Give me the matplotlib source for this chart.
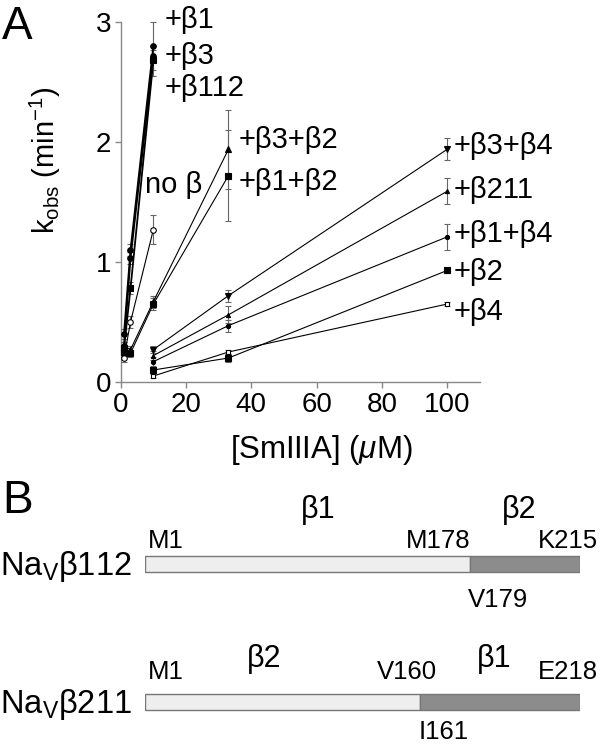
import numpy as np
import matplotlib
matplotlib.use('Agg')
import matplotlib.pyplot as plt

plt.rcParams['font.family'] = ['Liberation Sans', 'DejaVu Sans']
plt.rcParams['mathtext.fontset'] = 'custom'
plt.rcParams['mathtext.rm'] = 'Liberation Sans'
plt.rcParams['mathtext.it'] = 'Liberation Sans:italic'

# ---- panel A data ----
conc_steep = [1, 3, 10]
conc_mid = [1, 3, 10, 33]
conc_low = [10, 33, 100]

series_names = ['+β1', '+β3', '+β112', 'no β', '+β3+β2', '+β1+β2',
                '+β3+β4', '+β211', '+β1+β4', '+β2', '+β4']
series_x = [conc_steep, conc_steep, conc_steep, conc_steep, conc_mid, conc_mid,
            conc_low, conc_low, conc_low, conc_low, conc_low]
series_y = [
    [0.40, 1.10, 2.80],
    [0.30, 1.03, 2.72],
    [0.28, 0.78, 2.68],
    [0.20, 0.50, 1.27],
    [0.30, 0.27, 0.67, 1.94],
    [0.25, 0.24, 0.65, 1.72],
    [0.27, 0.72, 1.94],
    [0.22, 0.56, 1.59],
    [0.17, 0.47, 1.21],
    [0.10, 0.20, 0.93],
    [0.05, 0.25, 0.65],
]
series_err = [
    [0.04, 0.05, 0.20],
    [0.03, 0.05, 0.05],
    [0.03, 0.05, 0.13],
    [0.03, 0.05, 0.12],
    [0.03, 0.03, 0.05, 0.33],
    [0.03, 0.03, 0.05, 0.38],
    [0.03, 0.05, 0.09],
    [0.04, 0.07, 0.11],
    [0.04, 0.05, 0.11],
    [0.02, 0.03, 0.02],
    [0.02, 0.02, 0.02],
]
markers = ['o', 'o', 's', 'o', '^', 's', 'v', '^', 'o', 's', 's']
filled = [True, True, True, False, True, True, True, True, True, True, False]
msizes = [4, 4, 4, 4, 4, 5, 4, 3, 3, 5, 3.5]
lwidths = [1.3, 1.3, 1.3, 0.8, 0.8, 0.8, 0.8, 0.8, 0.8, 0.8, 0.8]

# label anchor points (data units)
label_x = [13.6, 13.6, 13.6, 7.5, 36, 36, 102, 102, 102, 102, 102]
label_y = [3.02, 2.72, 2.45, 1.64, 2.02, 1.67, 1.97, 1.60, 1.23, 0.92, 0.58]

# ---- panel B data ----
constructs = [r'Na$_\mathregular{V}$β112', r'Na$_\mathregular{V}$β211']
junction_frac = [0.748, 0.633]
domain_left = ['β1', 'β2']
domain_right = ['β2', 'β1']
res_start = ['M1', 'M1']
res_junc_left = ['M178', 'V160']
res_junc_right = ['V179', 'I161']
res_end = ['K215', 'E218']

W, H = 600, 750
fig = plt.figure(figsize=(6, 7.5), dpi=100)

# ---------------- panel A ----------------
ax = fig.add_axes([120.7 / W, (H - 382) / H, (480 - 120.7) / W, 360 / H])
for i in range(len(series_names)):
    face = 'black' if filled[i] else 'white'
    ax.errorbar(series_x[i], series_y[i], yerr=series_err[i], color='black',
                ecolor='#666666', elinewidth=0.8, capsize=2, capthick=0.8,
                lw=lwidths[i], marker=markers[i], ms=msizes[i], mfc=face,
                mec='black', mew=0.8, clip_on=False, zorder=3)
    ax.text(label_x[i], label_y[i], series_names[i], fontsize=21,
            ha='left', va='center')

ax.set_xlim(0, 110)
ax.set_ylim(0, 3)
ax.set_xticks(np.arange(0, 101, 20))
ax.set_yticks([0, 1, 2, 3])
for s in ['top', 'right']:
    ax.spines[s].set_visible(False)
for s in ['left', 'bottom']:
    ax.spines[s].set_color('#888888')
    ax.spines[s].set_linewidth(1.0)
ax.tick_params(direction='out', length=4, width=1.0, color='#888888',
               labelsize=20, pad=3)
ax.set_xlabel('[SmIIIA] ($\\mu$M)', fontsize=22.5)
ax.xaxis.set_label_coords(0.557, -0.142)
ax.set_ylabel(r'k$_\mathregular{obs}$ (min$^\mathregular{-1}$)', fontsize=21)
ax.yaxis.set_label_coords(-0.16, 0.615)

fig.text(2 / W, 1 - 27 / H, 'A', fontsize=33, ha='left', va='center')

# ---------------- panel B ----------------
axb = fig.add_axes([145 / W, 0, 435 / W, 280 / H])
axb.set_xlim(0, 1)
axb.set_ylim(1.348, -0.681)
axb.axis('off')

bar_h = 0.12
top_off = [-0.39, -0.31]
res_off = [-0.165, -0.215]
below_off = [0.26, 0.22]
left_center = [0.398, 0.274]
right_center = [0.86, 0.802]
for r in range(len(constructs)):
    j = junction_frac[r]
    axb.barh(r, j, left=0, height=bar_h, color='#eeeeee',
             edgecolor='#777777', lw=1.0)
    axb.barh(r, 1 - j, left=j, height=bar_h, color='#8c8c8c',
             edgecolor='#777777', lw=1.0)
    axb.text(-0.03, r + 0.02, constructs[r], fontsize=23.5, ha='right', va='center')
    axb.text(left_center[r], r + top_off[r], domain_left[r], fontsize=22,
             ha='center', va='center')
    axb.text(right_center[r], r + top_off[r], domain_right[r], fontsize=22,
             ha='center', va='center')
    axb.text(0.006, r + res_off[r], res_start[r], fontsize=18.5,
             ha='left', va='center')
    axb.text(j + (0.0 if r == 0 else 0.038), r + res_off[r], res_junc_left[r],
             fontsize=18.5, ha='right', va='center')
    axb.text(1.041, r + res_off[r], res_end[r], fontsize=18.5,
             ha='right', va='center')
    axb.text(j - 0.005, r + below_off[r], res_junc_right[r], fontsize=18.5,
             ha='left', va='center')

fig.text(2 / W, 1 - 501 / H, 'B', fontsize=33, ha='left', va='center')

fig.savefig('out.png', dpi=100)
